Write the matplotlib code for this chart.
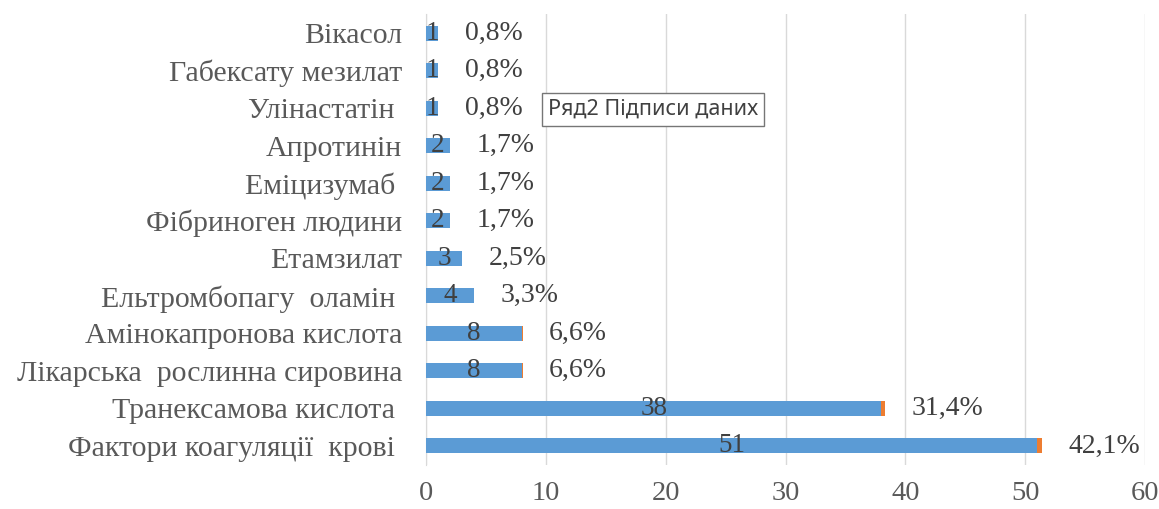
import matplotlib
matplotlib.use("Agg")
import matplotlib.pyplot as plt

categories = [
    "Вікасол", "Габексату мезилат", "Улінастатін ", "Апротинін",
    "Еміцизумаб ", "Фібриноген людини", "Етамзилат",
    "Ельтромбопагу  оламін ", "Амінокапронова кислота",
    "Лікарська  рослинна сировина", "Транексамова кислота ",
    "Фактори коагуляції  крові ",
]
counts = [1, 1, 1, 2, 2, 2, 3, 4, 8, 8, 38, 51]
shares = [0.008, 0.008, 0.008, 0.017, 0.017, 0.017, 0.025, 0.033,
          0.066, 0.066, 0.314, 0.421]
share_labels = ["0,8%", "0,8%", "0,8%", "1,7%", "1,7%", "1,7%", "2,5%",
                "3,3%", "6,6%", "6,6%", "31,4%", "42,1%"]
xticks = [0, 10, 20, 30, 40, 50, 60]

plt.rcParams["font.family"] = ["Liberation Serif", "DejaVu Serif"]

fig = plt.figure(figsize=(11.59, 5.09), dpi=100)
ax = fig.add_axes([0.3676, 0.087, 0.6204, 0.885])

pos = list(range(len(categories)))[::-1]
ax.barh(pos, counts, height=0.4, color="#5b9bd5", zorder=3)
ax.barh(pos, shares, left=counts, height=0.4, color="#ed7d31", zorder=3)

for p, c, s, lab in zip(pos, counts, shares, share_labels):
    ax.text(c / 2, p, str(c), ha="center", va="center", fontsize=19.5,
            color="#404040", zorder=4)
    ax.annotate(lab, (c + s, p), xytext=(19, 0), textcoords="offset points",
                ha="left", va="center", fontsize=20, color="#404040")

ax.set_xlim(0, 60)
ax.set_ylim(-0.5, len(categories) - 0.5)
ax.set_xticks(xticks)
ax.set_yticks(pos)
ax.set_yticklabels(categories, fontsize=21.5)
ax.tick_params(axis="both", length=0, labelcolor="#595959")
ax.tick_params(axis="x", pad=12, labelsize=20.5)
ax.tick_params(axis="y", pad=17)
ax.grid(axis="x", color="#d9d9d9", linewidth=1, zorder=0)
for side in ["top", "right", "bottom"]:
    ax.spines[side].set_visible(False)
ax.spines["left"].set_color("#d9d9d9")

# tooltip left over from the spreadsheet screenshot
fig.text(0.4725, 0.785, "Ряд2 Підписи даних", family="Noto Sans",
         fontsize=15.5, color="#404040", va="center", ha="left",
         bbox=dict(boxstyle="square,pad=0.27", fc="white", ec="#767676", lw=1))

fig.savefig("out.png", dpi=100)
